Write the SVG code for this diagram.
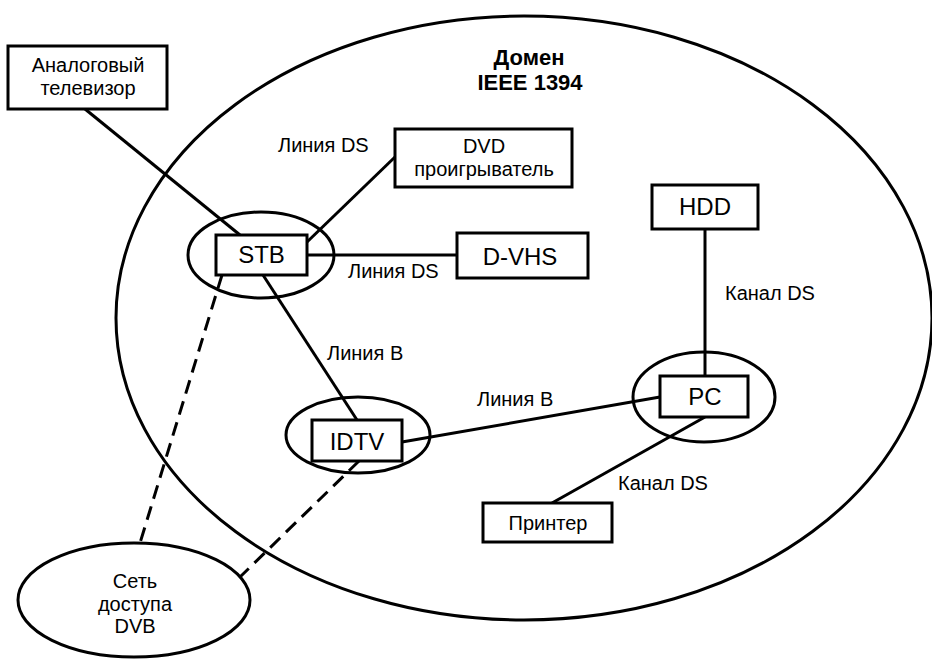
<svg xmlns="http://www.w3.org/2000/svg" width="932" height="659" viewBox="0 0 932 659">
<style>
.shape{fill:none;stroke:#000;stroke-width:3}
.box{fill:#fff;stroke:#000;stroke-width:3}
.ln{fill:none;stroke:#000;stroke-width:3}
.dash{fill:none;stroke:#000;stroke-width:3;stroke-dasharray:14 8}
text{font-family:"Liberation Sans",Arial,sans-serif;fill:#000}
.lbl{font-size:20px}
.big{font-size:24px;text-anchor:middle}
.mid{font-size:20px;text-anchor:middle}
.title{font-size:22px;font-weight:bold;text-anchor:middle}
</style>
<rect width="932" height="659" fill="#fff"/>
<g id="domain">
<ellipse class="shape" cx="524" cy="318" rx="408" ry="302"/>
<text class="title" x="529" y="65">Домен</text>
<text class="title" x="530" y="90">IEEE 1394</text>
</g>
<g id="ellipses">
<ellipse class="shape" cx="261" cy="255" rx="73" ry="43"/>
<ellipse class="shape" cx="358" cy="435" rx="72" ry="38"/>
<ellipse class="shape" cx="704" cy="397" rx="71" ry="45"/>
</g>
<g id="connectors">
<line class="ln" x1="85" y1="109" x2="240" y2="235"/>
<line class="ln" x1="307" y1="242" x2="395" y2="157"/>
<line class="ln" x1="307" y1="255" x2="457" y2="255"/>
<line class="ln" x1="263" y1="275" x2="357" y2="420"/>
<line class="ln" x1="402" y1="442" x2="660" y2="397"/>
<line class="ln" x1="705" y1="229" x2="705" y2="376"/>
<line class="ln" x1="705" y1="417" x2="552" y2="503"/>
<line class="dash" x1="222" y1="275" x2="140" y2="543"/>
<line class="dash" x1="359" y1="461" x2="240" y2="577"/>
</g>
<g id="labels">
<text class="lbl" x="278" y="152">Линия DS</text>
<text class="lbl" x="348" y="278">Линия DS</text>
<text class="lbl" x="327" y="360">Линия B</text>
<text class="lbl" x="477" y="406">Линия B</text>
<text class="lbl" x="725" y="300">Канал DS</text>
<text class="lbl" x="618" y="490">Канал DS</text>
</g>
<g id="analog-tv">
<rect class="box" x="8" y="46" width="159" height="63"/>
<text class="mid" x="88" y="72">Аналоговый</text>
<text class="mid" x="88" y="95">телевизор</text>
</g>
<g id="stb">
<rect class="box" x="216" y="235" width="91" height="40"/>
<text class="big" x="261.5" y="263">STB</text>
</g>
<g id="dvd">
<rect class="box" x="395" y="129" width="177" height="58"/>
<text class="mid" x="484" y="153">DVD</text>
<text class="mid" x="484" y="176">проигрыватель</text>
</g>
<g id="dvhs">
<rect class="box" x="457" y="233" width="131" height="45"/>
<text class="big" x="520" y="265">D-VHS</text>
</g>
<g id="idtv">
<rect class="box" x="312" y="420" width="90" height="41"/>
<text class="big" x="357" y="450">IDTV</text>
</g>
<g id="pc">
<rect class="box" x="660" y="376" width="88" height="41"/>
<text class="big" x="705" y="405">PC</text>
</g>
<g id="hdd">
<rect class="box" x="652" y="185" width="106" height="44"/>
<text class="big" x="705" y="215">HDD</text>
</g>
<g id="printer">
<rect class="box" x="483" y="503" width="129" height="39"/>
<text class="mid" x="548" y="530">Принтер</text>
</g>
<g id="dvb">
<ellipse class="box" cx="134" cy="600" rx="116" ry="57"/>
<text class="mid" x="135" y="588">Сеть</text>
<text class="mid" x="135" y="611">доступа</text>
<text class="mid" x="135" y="633">DVB</text>
</g>
</svg>
